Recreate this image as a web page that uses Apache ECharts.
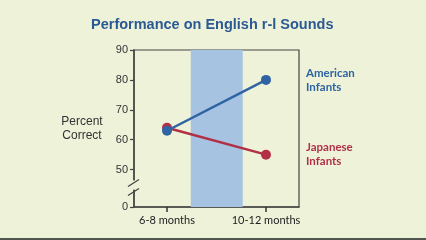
<!DOCTYPE html>
<html><head><meta charset="utf-8">
<script src="https://cdn.jsdelivr.net/npm/echarts@6/dist/echarts.min.js"></script>
<style>html,body{margin:0;padding:0;background:#edf2d9;}#c{width:426px;height:240px;}</style>
</head><body><div id="c"></div>
<script>
var categories = ['6-8 months', '10-12 months'];
var american = [63, 80];
var japanese = [64, 55];
var yTickValues = [37.5, 50, 60, 70, 80, 90];
var yTickLabels = ['0', '50', '60', '70', '80', '90'];
var seriesNames = ['American\nInfants', 'Japanese\nInfants'];

var chart = echarts.init(document.getElementById('c'));
var axisColor = '#444';
var bg = '#edf2d9';
function pairs(arr){ return arr.map(function(v,i){ return [i, v]; }); }
chart.setOption({
  backgroundColor: bg,
  animation: false,
  title: {
    text: 'Performance on English r-l Sounds',
    left: 86, top: 12,
    textStyle: {color: '#2b5a93', fontSize: 14.5, fontWeight: 'bold', fontFamily: 'Liberation Sans'}
  },
  grid: {left: 134, right: 127, top: 50, bottom: 33, show: true, borderColor: axisColor, borderWidth: 1.2, backgroundColor: 'transparent'},
  xAxis: {
    type: 'value', min: -1/3, max: 4/3,
    splitLine: {show: false},
    axisLine: {show: true, onZero: false, lineStyle: {color: axisColor, width: 1.5}},
    axisTick: {show: false},
    axisLabel: {customValues: [0, 1], margin: 8, color: '#222', fontSize: 11, fontFamily: 'Lato',
      formatter: function(v){ return categories[Math.round(v)]; }}
  },
  yAxis: {
    type: 'value', min: 37.5, max: 90,
    name: 'Percent\nCorrect', nameLocation: 'middle', nameRotate: 0, nameGap: 52,
    nameTextStyle: {color: '#333', fontSize: 12, lineHeight: 14, fontFamily: 'Liberation Sans', align: 'center', verticalAlign: 'middle'},
    splitLine: {show: false},
    axisLine: {show: true, onZero: false, lineStyle: {color: axisColor, width: 1.5}},
    axisTick: {show: true, length: 4, customValues: yTickValues, lineStyle: {color: axisColor, width: 1.2}},
    axisLabel: {customValues: yTickValues, margin: 6, color: '#333', fontSize: 11, fontFamily: 'Liberation Sans',
      formatter: function(v){ var i = yTickValues.indexOf(v); return i >= 0 ? yTickLabels[i] : ''; }}
  },
  series: [
    {
      name: 'Japanese', type: 'line', data: pairs(japanese), z: 3,
      symbol: 'circle', symbolSize: 10,
      lineStyle: {color: '#b23046', width: 2.5}, itemStyle: {color: '#b23046'},
      endLabel: {show: true, formatter: seriesNames[1], distance: 40, color: '#b23046', fontSize: 11.5, fontWeight: 'bold', fontFamily: 'Lato', lineHeight: 14, align: 'left'},
      markArea: {silent: true, itemStyle: {color: '#a7c3e2'}, data: [[{xAxis: 0.24}, {xAxis: 0.765}]]}
    },
    {
      name: 'American', type: 'line', data: pairs(american), z: 4,
      symbol: 'circle', symbolSize: 10,
      lineStyle: {color: '#2f63a3', width: 2.5}, itemStyle: {color: '#2f63a3'},
      endLabel: {show: true, formatter: seriesNames[0], distance: 40, color: '#2f63a3', fontSize: 11.5, fontWeight: 'bold', fontFamily: 'Lato', lineHeight: 14, align: 'left'}
    }
  ]
});

var ax = chart.convertToPixel({gridIndex: 0}, [-1/3, 46.4]);
var bx = chart.convertToPixel({gridIndex: 0}, [-1/3, 43.3]);
var u = chart.convertToPixel({gridIndex: 0}, [-1/3, 45.5]);
var l = chart.convertToPixel({gridIndex: 0}, [-1/3, 42.5]);
var x0 = ax[0];
var graphics = [
  {type: 'rect', z: 100, shape: {x: x0 - 2, y: ax[1], width: 4, height: bx[1] - ax[1]}, style: {fill: bg}},
  {type: 'line', z: 101, shape: {x1: x0 - 6, y1: u[1] + 3.5, x2: x0 + 5, y2: u[1] - 3.5}, style: {stroke: axisColor, lineWidth: 1.3}},
  {type: 'line', z: 101, shape: {x1: x0 - 6, y1: l[1] + 3.5, x2: x0 + 5, y2: l[1] - 3.5}, style: {stroke: axisColor, lineWidth: 1.3}},
  {type: 'rect', z: 100, shape: {x: 0, y: 238, width: 426, height: 2}, style: {fill: '#505550'}}
];
categories.forEach(function(c, i){
  var p = chart.convertToPixel({gridIndex: 0}, [i, 37.5]);
  graphics.push({type: 'rect', z: 101, shape: {x: p[0] - 0.75, y: p[1], width: 1.5, height: 5}, style: {fill: '#333'}});
});
chart.setOption({graphic: graphics});
</script>
</body></html>
